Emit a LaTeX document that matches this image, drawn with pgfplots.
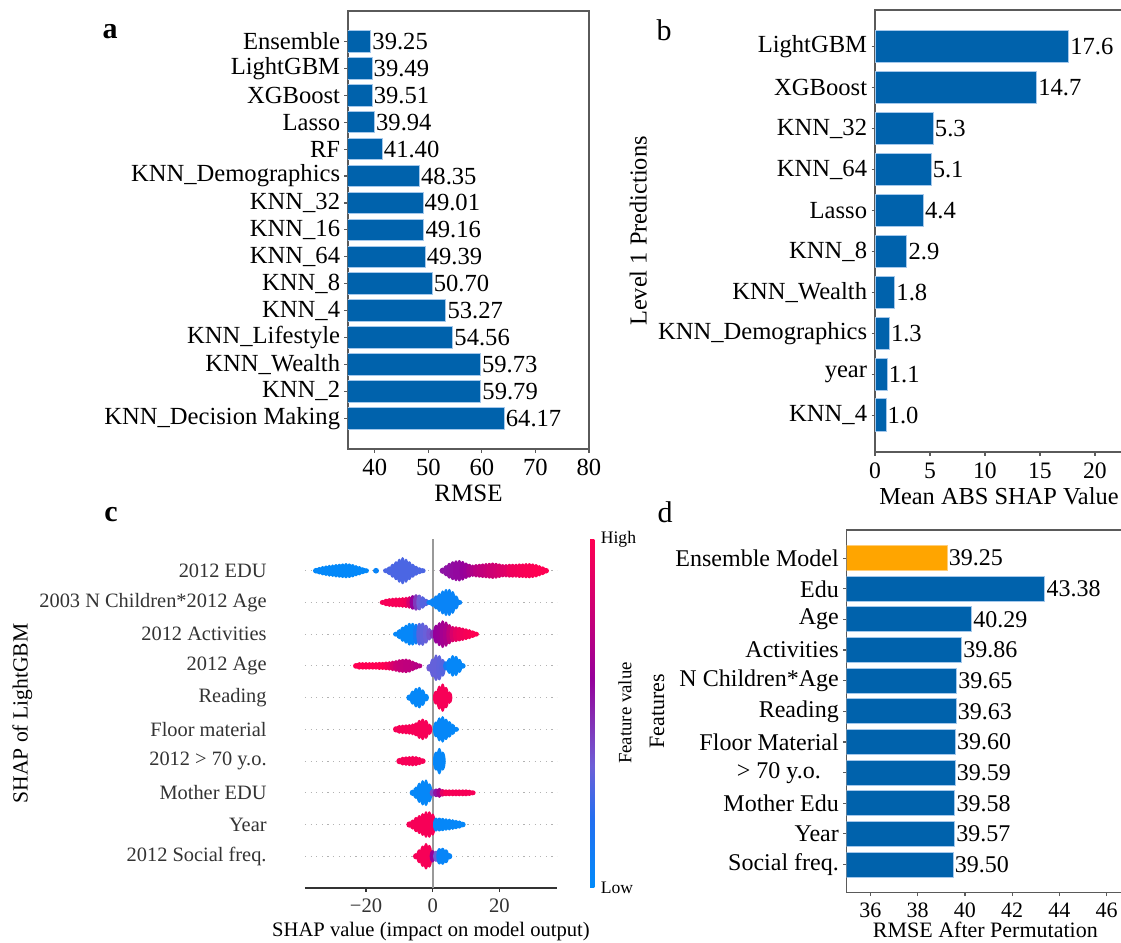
\documentclass[border=0pt]{standalone}
\usepackage{pgfplots}
\pgfplotsset{compat=1.18}
\usepackage{pgfplotstable}
\usepackage{fontspec}
\setmainfont{Liberation Serif}
\definecolor{barblue}{RGB}{0,98,172}
\definecolor{baredge}{RGB}{165,200,235}
\definecolor{barorange}{RGB}{255,165,0}
\definecolor{oredge}{RGB}{255,205,120}
\definecolor{spine}{RGB}{90,90,90}
\newcommand\fs[1]{\fontsize{#1}{#1}\selectfont}
\def\hh{0.1}
\pgfdeclareplotmark{vell}{\pgfpathellipse{\pgfpointorigin}{\pgfqpoint{\pgfplotmarksize}{0pt}}{\pgfpoint{0pt}{\hh*15.86pt}}\pgfusepathqfill}
\pgfplotstableread{
x y c h
-35 9 0.02 0.09
-34 9 0.02 0.12
-33 9 0.02 0.15
-32 9 0.02 0.17
-31 9 0.02 0.19
-30 9 0.02 0.20
-29 9 0.02 0.21
-28 9 0.02 0.22
-27 9 0.02 0.23
-26 9 0.02 0.24
-25 9 0.02 0.23
-24 9 0.02 0.21
-23 9 0.02 0.18
-22 9 0.02 0.15
-21 9 0.02 0.11
-20 9 0.02 0.08
-17 9 0.05 0.09
-14 9 0.28 0.08
-13 9 0.28 0.14
-12 9 0.28 0.22
-11 9 0.28 0.30
-10 9 0.28 0.38
-9 9 0.28 0.43
-8 9 0.28 0.38
-7 9 0.28 0.30
-6 9 0.28 0.22
-5 9 0.28 0.16
-4 9 0.28 0.11
-3 9 0.28 0.08
3 9 0.55 0.10
4 9 0.55 0.18
5 9 0.56 0.25
6 9 0.57 0.30
7 9 0.58 0.33
8 9 0.58 0.34
9 9 0.60 0.31
10 9 0.62 0.26
11 9 0.66 0.22
12 9 0.70 0.20
13 9 0.73 0.21
14 9 0.75 0.22
15 9 0.76 0.23
16 9 0.78 0.24
17 9 0.80 0.25
18 9 0.80 0.26
19 9 0.82 0.25
20 9 0.84 0.23
21 9 0.86 0.21
22 9 0.88 0.21
23 9 0.92 0.22
24 9 0.94 0.22
25 9 0.95 0.22
26 9 0.96 0.23
27 9 0.97 0.23
28 9 0.98 0.24
29 9 0.98 0.24
30 9 0.99 0.23
31 9 1.00 0.21
32 9 1.00 0.18
33 9 1.00 0.14
34 9 1.00 0.09
-15 8 0.97 0.08
-14 8 0.97 0.12
-13 8 0.97 0.14
-12 8 0.97 0.15
-11 8 0.97 0.16
-10 8 0.97 0.16
-9 8 0.97 0.17
-8 8 0.95 0.18
-7 8 0.85 0.20
-6 8 0.60 0.23
-5 8 0.45 0.26
-4 8 0.35 0.25
-3 8 0.30 0.20
-2 8 0.30 0.12
-1 8 0.05 0.08
0 8 0.05 0.14
1 8 0.05 0.22
2 8 0.05 0.30
3 8 0.05 0.38
4 8 0.05 0.43
5 8 0.05 0.43
6 8 0.05 0.36
7 8 0.05 0.22
8 8 0.05 0.08
-11 7 0.03 0.08
-10 7 0.03 0.16
-9 7 0.03 0.24
-8 7 0.03 0.30
-7 7 0.03 0.36
-6 7 0.03 0.36
-5 7 0.10 0.33
-4 7 0.30 0.36
-3 7 0.32 0.37
-2 7 0.34 0.30
-1 7 0.38 0.20
0 7 0.45 0.14
1 7 0.60 0.30
2 7 0.62 0.38
3 7 0.65 0.44
4 7 0.68 0.40
5 7 0.75 0.32
6 7 0.85 0.26
7 7 0.90 0.25
8 7 0.93 0.23
9 7 0.95 0.21
10 7 0.97 0.19
11 7 0.98 0.16
12 7 1.00 0.12
13 7 1.00 0.08
-23 6 1.00 0.09
-22 6 1.00 0.12
-21 6 1.00 0.12
-20 6 1.00 0.12
-19 6 1.00 0.12
-18 6 1.00 0.12
-17 6 1.00 0.12
-16 6 1.00 0.13
-15 6 1.00 0.13
-14 6 0.98 0.14
-13 6 0.95 0.15
-12 6 0.85 0.17
-11 6 0.80 0.19
-10 6 0.78 0.21
-9 6 0.76 0.22
-8 6 0.75 0.23
-7 6 0.75 0.21
-6 6 0.74 0.17
-5 6 0.72 0.12
-4 6 0.72 0.08
-1 5.94 0.35 0.12
0 5.94 0.33 0.30
1 5.94 0.33 0.42
2 5.94 0.32 0.40
3 5.94 0.30 0.28
4 6 0.10 0.15
5 6 0.03 0.25
6 6 0.03 0.34
7 6 0.03 0.32
8 6 0.03 0.22
9 6 0.03 0.09
-7 5 0.03 0.10
-6 5 0.03 0.22
-5 5 0.03 0.31
-4 5 0.03 0.34
-3 5 0.03 0.26
-2 5 0.03 0.12
1 5 0.97 0.22
2 5 0.97 0.38
3 5 0.97 0.45
4 5 0.97 0.34
5 5 0.97 0.20
-11 4 0.97 0.10
-10 4 0.97 0.14
-9 4 0.97 0.15
-8 4 0.97 0.16
-7 4 0.97 0.17
-6 4 0.97 0.19
-5 4 0.97 0.22
-4 4 0.97 0.30
-3 4 0.97 0.34
-2 4 0.97 0.30
-1 4 0.97 0.18
1 4 0.03 0.25
2 4 0.03 0.38
3 4 0.03 0.42
4 4 0.03 0.34
5 4 0.03 0.26
6 4 0.03 0.18
7 4 0.03 0.08
-10 3 0.97 0.10
-9 3 0.97 0.14
-8 3 0.97 0.15
-7 3 0.97 0.16
-6 3 0.97 0.17
-5 3 0.97 0.16
-4 3 0.97 0.13
-3 3 0.97 0.09
1 3 0.03 0.30
2 3 0.03 0.42
3 3 0.03 0.30
-6 2 0.03 0.10
-5 2 0.03 0.20
-4 2 0.03 0.32
-3 2 0.03 0.40
-2 2 0.03 0.42
-1 2 0.03 0.30
0 2 0.40 0.12
1 2 0.55 0.14
2 2 0.65 0.16
3 2 0.90 0.12
4 2 0.97 0.11
5 2 0.97 0.11
6 2 0.97 0.11
7 2 0.97 0.11
8 2 0.97 0.11
9 2 0.97 0.11
10 2 0.97 0.11
11 2 0.97 0.10
12 2 0.97 0.08
-7 1 0.97 0.10
-6 1 0.97 0.16
-5 1 0.97 0.24
-4 1 0.97 0.30
-3 1 0.97 0.36
-2 1 0.97 0.42
-1 1 0.97 0.42
0 1 0.97 0.35
1 1 0.03 0.22
2 1 0.03 0.22
3 1 0.03 0.21
4 1 0.03 0.20
5 1 0.03 0.19
6 1 0.03 0.17
7 1 0.03 0.15
8 1 0.03 0.13
9 1 0.03 0.09
-5 0 0.97 0.10
-4 0 0.97 0.22
-3 0 0.97 0.34
-2 0 0.97 0.42
-1 0 0.97 0.36
0 0 0.60 0.20
1 0 0.35 0.18
2 0 0.04 0.26
3 0 0.04 0.27
4 0 0.04 0.22
5 0 0.04 0.10
}\shapdata
\pgfplotsset{
  barax/.style={scale only axis, anchor=south west, xbar, bar shift=0pt, y dir=reverse,
    tick align=outside, tick pos=left, major tick length=1.75pt,
    axis line style={spine, line width=0.6pt}, tick style={spine, line width=0.6pt},
    /pgf/number format/assume math mode=true, point meta=x,
    nodes near coords align={horizontal},
    every node near coord/.append style={inner sep=0.6pt, text=black}},
}
\begin{document}
\begin{tikzpicture}
\useasboundingbox (0,0) rectangle (560.5pt,471.5pt);
% ---------------- panel a
\begin{axis}[barax, at={(174pt,247pt)}, width=120.5pt, height=219pt,
  bar width=0.8, xmin=35, xmax=80, ymin=-1.13, ymax=15.14,
  xtick={40,50,60,70,80}, ytick={0,...,14},
  yticklabels={Ensemble,LightGBM,XGBoost,Lasso,RF,KNN\_Demographics,KNN\_32,KNN\_16,KNN\_64,KNN\_8,KNN\_4,KNN\_Lifestyle,KNN\_Wealth,KNN\_2,KNN\_Decision Making},
  ticklabel style={font=\fs{12.3}}, yticklabel style={inner sep=2pt},
  xlabel={RMSE}, xlabel style={font=\fs{12.5}, inner sep=1pt},
  nodes near coords={\pgfmathprintnumber[fixed,fixed zerofill,precision=2]{\pgfplotspointmeta}},
  every node near coord/.append style={font=\fs{12.3}}]
\addplot[fill=barblue, draw=baredge, line width=0.5pt] coordinates {
(39.25,0) (39.49,1) (39.51,2) (39.94,3) (41.40,4) (48.35,5) (49.01,6) (49.16,7)
(49.39,8) (50.70,9) (53.27,10) (54.56,11) (59.73,12) (59.79,13) (64.17,14)};
\end{axis}
% ---------------- panel b
\begin{axis}[barax, at={(437.5pt,245.5pt)}, width=124pt, height=221pt,
  bar width=0.79, xmin=0, xmax=22.55, ymin=-0.9, ymax=9.9,
  xtick={0,5,10,15,20}, ytick={0,...,9},
  yticklabels={LightGBM,XGBoost,KNN\_32,KNN\_64,Lasso,KNN\_8,KNN\_Wealth,KNN\_Demographics,year,KNN\_4},
  xticklabel style={font=\fs{11.8}}, yticklabel style={font=\fs{12.3}, inner sep=2pt},
  xlabel={Mean ABS SHAP Value}, xlabel style={font=\fs{12.2}, inner sep=1pt},
  ylabel={Level 1 Predictions}, ylabel style={font=\fs{12.2}},
  nodes near coords={\pgfmathprintnumber[fixed,fixed zerofill,precision=1]{\pgfplotspointmeta}},
  every node near coord/.append style={font=\fs{12.3}}]
\addplot[fill=barblue, draw=baredge, line width=0.5pt] coordinates {
(17.6,0) (14.7,1) (5.3,2) (5.1,3) (4.4,4) (2.9,5) (1.8,6) (1.3,7) (1.1,8) (1.0,9)};
\end{axis}
% ---------------- panel c
\begin{axis}[scale only axis, anchor=south west, at={(152.5pt,27.5pt)}, width=126pt, height=174.5pt,
  xmin=-38.3, xmax=37.3, ymin=-1, ymax=10,
  axis x line*=bottom, axis y line*=left,
  y axis line style={draw=none}, x axis line style={draw=black!80, line width=0.6pt},
  xtick={-20,0,20}, xticklabels={−20,0,20}, tick align=outside, major tick length=2pt,
  xtick style={draw=black!80, line width=0.6pt}, ytick style={draw=none},
  xticklabel style={font=\fs{10.3}, text=black!80},
  ytick={0,...,9},
  yticklabels={2012 Social freq.,Year,Mother EDU,2012 > 70 y.o.,Floor material,Reading,2012 Age,2012 Activities,2003 N Children*2012 Age,2012 EDU},
  yticklabel style={font=\fs{10.2}, text=black!80, inner sep=0pt, xshift=-17pt},
  ymajorgrids, major grid style={black!30, dash pattern=on 0.6pt off 2.2pt, line width=0.5pt},
  xlabel={SHAP value (impact on model output)}, xlabel style={font=\fs{10.3}, inner sep=1pt},
  ylabel={SHAP of LightGBM}, ylabel style={font=\fs{10.8}},
  colormap={shap}{rgb255(0cm)=(0,139,250); rgb255(2cm)=(35,110,240); rgb255(3.5cm)=(110,95,215); rgb255(5cm)=(135,40,175); rgb255(6cm)=(150,0,155); rgb255(8cm)=(205,0,115); rgb255(10cm)=(255,0,82)},
  point meta min=0, point meta max=1,
  colorbar,
  colorbar style={at={(parent axis.north east)}, anchor=north west, xshift=8pt,
    scale only axis, width=2.2pt, height=174.5pt,
    axis line style={draw=none}, ytick={0,1}, yticklabels={Low,High},
    major tick length=0pt, ytick style={draw=none},
    yticklabel style={font=\fs{8.8}, inner sep=0pt, xshift=3pt}}]
\addplot[draw=black!40, line width=1pt] coordinates {(0,-1) (0,10)};
\addplot[scatter, only marks, mark=vell, mark size=1.5pt,
  scatter/use mapped color={draw=none, fill=mapped color},
  point meta=explicit,
  visualization depends on={\thisrow{h} \as \hh}]
  table[x=x, y=y, meta=c] {\shapdata};
\end{axis}
% ---------------- panel d
\begin{axis}[barax, at={(423.35pt,25.15pt)}, width=138.65pt, height=181.35pt,
  bar width=0.815, xmin=35, xmax=46.73, ymin=-0.92, ymax=10.92,
  xtick={36,38,40,42,44,46}, ytick={0,...,10},
  yticklabels={Ensemble Model,Edu,Age,Activities,N Children*Age,Reading,Floor Material,{> 70 y.o.\hspace*{9pt}},Mother Edu,Year,Social freq.},
  xticklabel style={font=\fs{11}}, yticklabel style={font=\fs{12}, inner sep=2pt},
  xlabel={RMSE After Permutation}, xlabel style={font=\fs{11}, inner sep=0pt, yshift=1.5pt},
  ylabel={Features}, ylabel style={font=\fs{11}},
  nodes near coords={\pgfmathprintnumber[fixed,fixed zerofill,precision=2]{\pgfplotspointmeta}},
  every node near coord/.append style={font=\fs{12}}]
\addplot[fill=barorange, draw=oredge, line width=0.5pt] coordinates {(39.25,0)};
\addplot[fill=barblue, draw=baredge, line width=0.5pt] coordinates {
(43.38,1) (40.29,2) (39.86,3) (39.65,4) (39.63,5) (39.60,6) (39.59,7) (39.58,8) (39.57,9) (39.50,10)};
\end{axis}
% ---------------- panel letters and extra text
\node[font=\bfseries\fs{15}] at (55pt,455.5pt) {a};
\node[font=\fs{15}] at (332pt,456.5pt) {b};
\node[font=\bfseries\fs{15}] at (55.5pt,214pt) {c};
\node[font=\fs{15}] at (332.5pt,215.5pt) {d};
\node[font=\fs{9.4}, rotate=90] at (312.5pt,115pt) {Feature value};
\end{tikzpicture}
\end{document}
